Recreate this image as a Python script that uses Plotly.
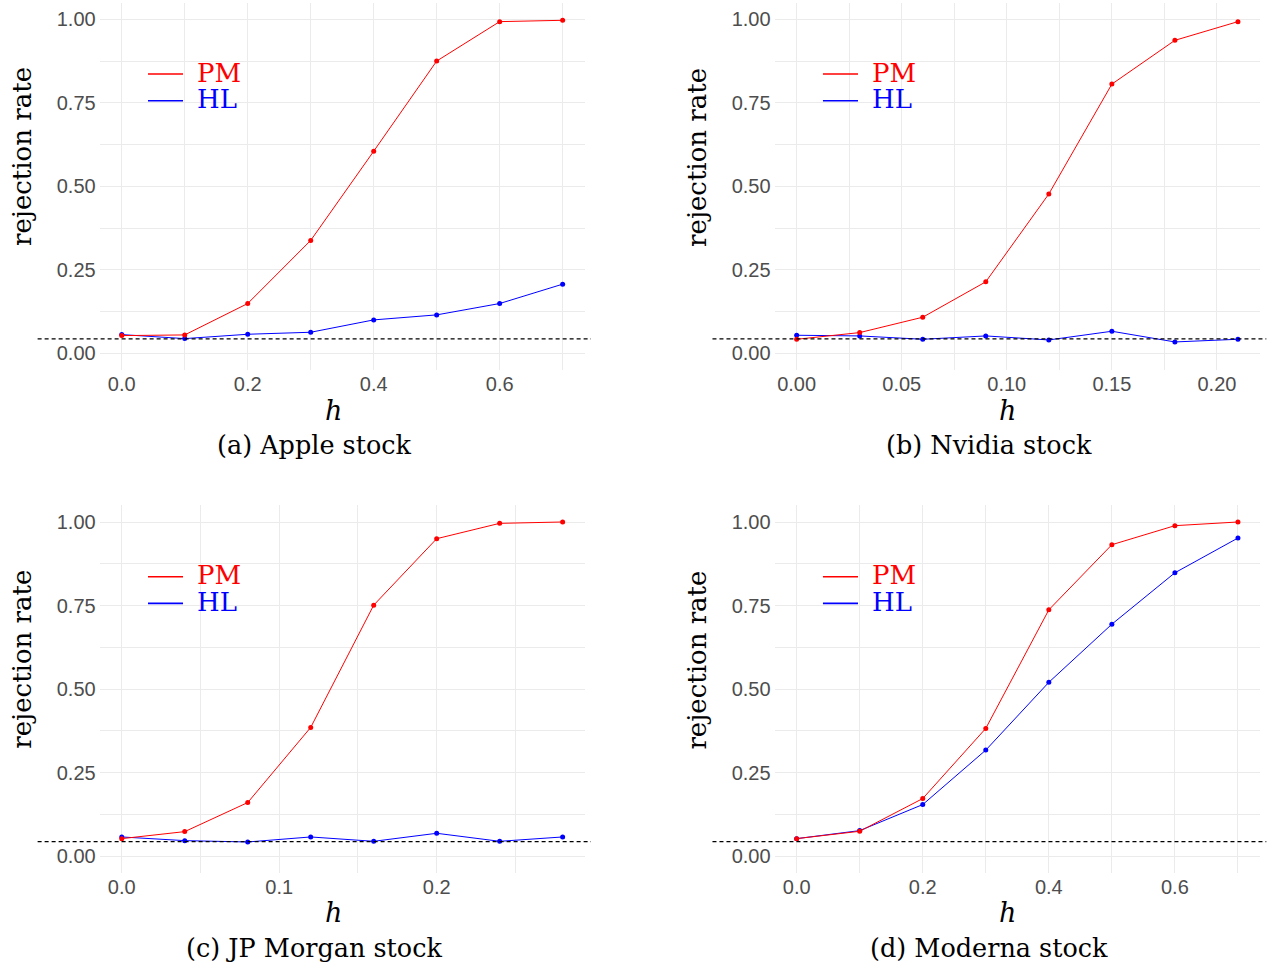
import plotly.graph_objects as go

# ---------------- data ----------------
h_apple = [0.0, 0.1, 0.2, 0.3, 0.4, 0.5, 0.6, 0.7]
pm_apple = [0.053, 0.055, 0.149, 0.338, 0.605, 0.875, 0.993, 0.997]
hl_apple = [0.056, 0.044, 0.057, 0.063, 0.100, 0.115, 0.149, 0.207]

h_nvidia = [0.00, 0.03, 0.06, 0.09, 0.12, 0.15, 0.18, 0.21]
pm_nvidia = [0.042, 0.062, 0.108, 0.214, 0.477, 0.806, 0.937, 0.993]
hl_nvidia = [0.054, 0.052, 0.042, 0.052, 0.040, 0.066, 0.034, 0.042]

h_jpm = [0.00, 0.04, 0.08, 0.12, 0.16, 0.20, 0.24, 0.28]
pm_jpm = [0.052, 0.073, 0.160, 0.385, 0.751, 0.950, 0.996, 1.000]
hl_jpm = [0.057, 0.046, 0.042, 0.057, 0.044, 0.068, 0.044, 0.057]

h_moderna = [0.0, 0.1, 0.2, 0.3, 0.4, 0.5, 0.6, 0.7]
pm_moderna = [0.052, 0.074, 0.172, 0.382, 0.737, 0.932, 0.989, 1.000]
hl_moderna = [0.052, 0.076, 0.154, 0.317, 0.520, 0.694, 0.848, 0.952]

nominal_level = 0.043
captions = ["(a) Apple stock", "(b) Nvidia stock", "(c) JP Morgan stock", "(d) Moderna stock"]
x_dticks = [0.2, 0.05, 0.1, 0.2]
x_formats = [".1f", ".2f", ".1f", ".1f"]
y_ticks = [0.0, 0.25, 0.5, 0.75, 1.0]
series_names = ["PM", "HL"]

# ---------------- layout constants ----------------
W, H = 1267, 964
RED, BLUE = "#FF0000", "#0000FF"
GRID = "#EBEBEB"
TICK_FONT = dict(family="Liberation Sans, Arial, sans-serif", size=20, color="#4D4D4D")
SERIF = "DejaVu Serif, serif"

x_domains = [[99.7 / W, 584.7 / W], [774.6 / W, 1260 / W]]
y_domains = [[1 - 370 / H, 1 - 2.6 / H], [1 - 872.7 / H, 1 - 505.3 / H]]

panels = [
    (h_apple, pm_apple, hl_apple),
    (h_nvidia, pm_nvidia, hl_nvidia),
    (h_jpm, pm_jpm, hl_jpm),
    (h_moderna, pm_moderna, hl_moderna),
]

fig = go.Figure()
annotations = []
shapes = []


def expand(lo, hi, f=0.05):
    d = (hi - lo) * f
    return [lo - d, hi + d]


for i, (hx, pm, hl) in enumerate(panels):
    row, col = divmod(i, 2)
    ax = "" if i == 0 else str(i + 1)
    xa, ya = "x" + ax, "y" + ax

    fig.add_trace(go.Scatter(x=hx, y=hl, mode="lines+markers", name="HL",
                             line=dict(color=BLUE, width=1), marker=dict(color=BLUE, size=5),
                             xaxis=xa, yaxis=ya, showlegend=False))
    fig.add_trace(go.Scatter(x=hx, y=pm, mode="lines+markers", name="PM",
                             line=dict(color=RED, width=1), marker=dict(color=RED, size=5),
                             xaxis=xa, yaxis=ya, showlegend=False))

    common = dict(showline=False, zeroline=False, ticks="", gridcolor=GRID, gridwidth=1.1,
                  tickfont=TICK_FONT, fixedrange=True)
    fig.layout["xaxis" + ax] = dict(
        domain=x_domains[col], anchor=ya, range=expand(min(hx), max(hx)),
        tick0=0, dtick=x_dticks[i], tickformat=x_formats[i],
        minor=dict(dtick=x_dticks[i] / 2, tick0=0, showgrid=True, gridcolor=GRID, gridwidth=0.6),
        **common)
    fig.layout["yaxis" + ax] = dict(
        domain=y_domains[row], anchor=xa, range=expand(0, 1),
        tickvals=y_ticks, tickformat=".2f", ticklabelstandoff=3,
        minor=dict(dtick=0.125, tick0=0, showgrid=True, gridcolor=GRID, gridwidth=0.6),
        **common)

    # nominal level dashed line (extends past the panel, as in the reference)
    shapes.append(dict(type="line", xref=xa + " domain", yref=ya,
                       x0=-0.128, x1=1.013, y0=nominal_level, y1=nominal_level,
                       line=dict(color="black", width=1.2, dash="4px,3px"), layer="above"))

    # legend keys
    for k, (name, colr) in enumerate(zip(series_names, [RED, BLUE])):
        ly = 0.8057 - k * 0.0727
        shapes.append(dict(type="line", xref=xa + " domain", yref=ya + " domain",
                           x0=0.0996, x1=0.1718, y0=ly, y1=ly,
                           line=dict(color=colr, width=1.6)))
        annotations.append(dict(text=name, xref=xa + " domain", yref=ya + " domain",
                                x=0.1965, y=ly + 0.004, xanchor="left", yanchor="middle",
                                showarrow=False, font=dict(family=SERIF, size=26, color=colr)))

    # axis titles and captions
    x0p, x1p = x_domains[col]
    row_shift = row * 502.7 / H
    dx = x0p - x_domains[0][0]
    annotations.append(dict(text="<i>h</i>", xref="paper", yref="paper",
                            x=333 / W + dx, y=1 - 410 / H - row_shift, xanchor="center", yanchor="middle",
                            showarrow=False, font=dict(family=SERIF, size=27, color="black")))
    annotations.append(dict(text=captions[i], xref="paper", yref="paper",
                            x=314 / W + dx, y=1 - 445 / H - row_shift,
                            xanchor="center", yanchor="middle",
                            showarrow=False, font=dict(family=SERIF, size=25.5, color="black")))
    annotations.append(dict(text="rejection rate", xref="paper", yref="paper",
                            x=22 / W + dx, y=1 - 157 / H - row_shift,
                            xanchor="center", yanchor="middle", textangle=-90,
                            showarrow=False, font=dict(family=SERIF, size=26, color="black")))

fig.update_layout(
    width=W, height=H, margin=dict(l=0, r=0, t=0, b=0),
    paper_bgcolor="white", plot_bgcolor="white",
    annotations=annotations, shapes=shapes, showlegend=False,
)

fig.write_html("out.html", config=dict(displayModeBar=False),
               post_script="document.body.style.margin='0px';document.body.style.overflow='hidden';")
